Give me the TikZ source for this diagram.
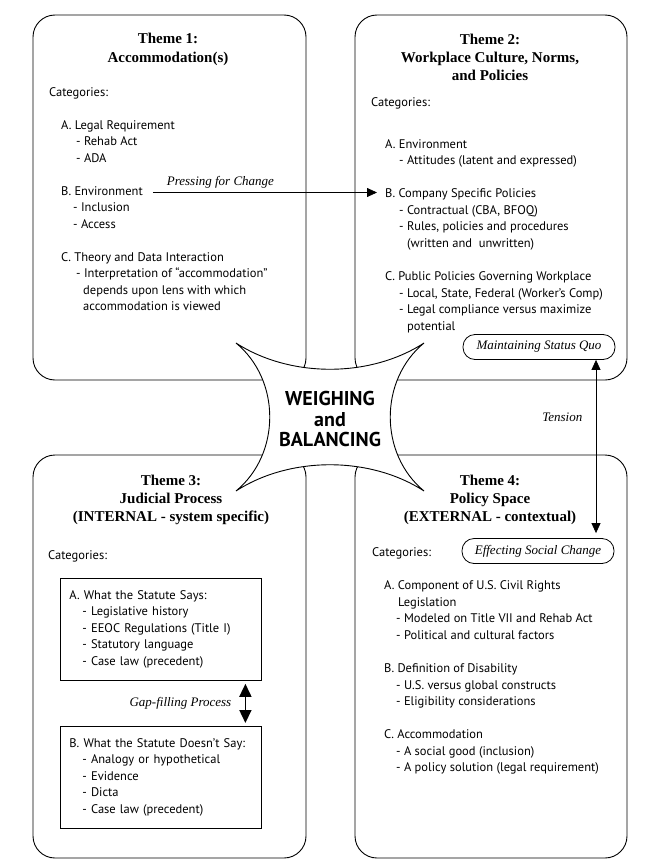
\documentclass[tikz,border=0pt]{standalone}
\usepackage{fontspec}
\setmainfont{PT Sans}
\newfontfamily\titlefont{Liberation Serif}
\usepackage{tikz}
\usetikzlibrary{positioning,arrows.meta,calc}

\begin{document}
\begin{tikzpicture}[
  x=1pt,y=-1pt,
  themebox/.style={
    draw,
    rounded corners=22pt,
    line width=0.9pt
  },
  ttl/.style={
    font=\titlefont\bfseries\fontsize{15}{18.3}\selectfont,
    align=center,
    anchor=base,
    inner sep=0pt
  },
  cat/.style={
    font=\fontsize{12.5}{16.5}\selectfont,
    align=left,
    anchor=base west,
    inner sep=0pt
  },
  lbl/.style={font=\titlefont\itshape\fontsize{13}{15}\selectfont},
  oval/.style={
    draw,
    lbl,
    rounded corners=12pt,
    minimum width=152pt,
    minimum height=25pt,
    inner sep=0pt,
    line width=0.8pt
  },
  inbox/.style={
    draw,
    anchor=north west,
    font=\fontsize{12.5}{16.5}\selectfont,
    align=left,
    text width=183pt,
    inner xsep=9pt,
    minimum height=102pt,
    line width=0.8pt
  },
  arr/.style={-{Triangle[length=10pt,width=9pt]},line width=0.8pt},
  tens/.style={{Triangle[length=10pt,width=9pt]}-{Triangle[length=10pt,width=9pt]},line width=0.8pt},
  gap/.style={{Triangle[length=13pt,width=12pt]}-{Triangle[length=13pt,width=12pt]},line width=1.6pt}
]
\useasboundingbox (0,0) rectangle (658,867);

% the four themes
\draw[themebox] (33,15) rectangle (306,380);
\draw[themebox] (355,15) rectangle (627,380);
\draw[themebox] (33,455) rectangle (306,858);
\draw[themebox] (355,455) rectangle (627,858);

% Theme 1 (base = last line)
\node[ttl] (title1) at (168,62.3) {Theme 1:\\Accommodation(s)};
\node[cat] (cat1) at (49,96) {Categories:};
\node[cat] (a1) at (61,162) {A. Legal Requirement\\\hspace*{15pt}- Rehab Act\\\hspace*{15pt}- ADA};
\node[cat] (b1) at (61,195) {B. Environment};
\node[cat] (b1x) at (73,228) {- Inclusion\\- Access};
\node[cat] (c1) at (61,310.5) {C. Theory and Data Interaction\\\hspace*{15pt}- Interpretation of “accommodation”\\\hspace*{22pt}depends upon lens with which\\\hspace*{22pt}accommodation is viewed};

% Theme 2
\node[ttl] (title2) at (490,80.6) {Theme 2:\\Workplace Culture, Norms,\\and Policies};
\node[cat] (cat2) at (371,106) {Categories:};
\node[cat] (a2) at (385,164.5) {A. Environment\\\hspace*{14pt}- Attitudes (latent and expressed)};
\node[cat] (b2) at (385,197.5) {B. Company Specific Policies};
\node[cat] (b2x) at (399,247) {- Contractual (CBA, BFOQ)\\- Rules, policies and procedures\\\hspace*{8pt}(written and~~unwritten)};
\node[cat] (c2) at (385,330) {C. Public Policies Governing Workplace\\\hspace*{14pt}- Local, State, Federal (Worker’s Comp)\\\hspace*{14pt}- Legal compliance versus maximize\\\hspace*{22pt}potential};
\node[oval] (msq) at (539,347) {Maintaining Status Quo};

% Theme 3
\node[ttl] (title3) at (171,521.6) {Theme 3:\\Judicial Process\\(INTERNAL - system specific)};
\node[cat] (cat3) at (48,559) {Categories:};
\node[inbox] (says) at (60,578) {A. What the Statute Says:\\\hspace*{13pt}- Legislative history\\\hspace*{13pt}- EEOC Regulations (Title I)\\\hspace*{13pt}- Statutory language\\\hspace*{13pt}- Case law (precedent)};
\node[inbox] (notsay) at (60,726) {B. What the Statute Doesn’t Say:\\\hspace*{13pt}- Analogy or hypothetical\\\hspace*{13pt}- Evidence\\\hspace*{13pt}- Dicta\\\hspace*{13pt}- Case law (precedent)};

% Theme 4
\node[ttl] (title4) at (490,521.6) {Theme 4:\\Policy Space\\(EXTERNAL - contextual)};
\node[cat] (cat4) at (372,556.5) {Categories:};
\node[oval] (esc) at (538,551) {Effecting Social Change};
\node[cat] (a4) at (384,639) {A. Component of U.S. Civil Rights\\\hspace*{14pt}Legislation\\\hspace*{12pt}- Modeled on Title VII and Rehab Act\\\hspace*{12pt}- Political and cultural factors};
\node[cat] (b4) at (384,705.5) {B. Definition of Disability\\\hspace*{12pt}- U.S. versus global constructs\\\hspace*{12pt}- Eligibility considerations};
\node[cat] (c4) at (384,771.5) {C. Accommodation\\\hspace*{12pt}- A social good (inclusion)\\\hspace*{12pt}- A policy solution (legal requirement)};

% weighing and balancing
\draw[fill=white,line width=0.9pt] (236,343) .. controls (290,378) and (370,378) .. (424,343)
  .. controls (379,380) and (379,454) .. (424,491)
  .. controls (370,456) and (290,456) .. (236,491)
  .. controls (281,454) and (281,380) .. cycle;
\node[font=\bfseries\fontsize{20}{20.5}\selectfont,align=center] (wb) at (330,419) {WEIGHING\\and\\BALANCING};

% connectors
\draw[arr,shorten <=10pt,shorten >=8pt] (b1.mid east) -- (b1.mid east -| b2.west)
  node[lbl,pos=0.32,above=1pt] (press) {Pressing for Change};
\draw[tens,shorten >=5pt] ([xshift=57pt]msq.south) -- ([xshift=58pt]esc.north)
  node[lbl,pos=0.32,left=10pt] (tension) {Tension};
\draw[gap,shorten <=3pt,shorten >=3pt] ([xshift=84.5pt]says.south) -- ([xshift=84.5pt]notsay.north)
  node[lbl,midway,left=10pt] (gapfill) {Gap-filling Process};

\end{tikzpicture}
\end{document}
